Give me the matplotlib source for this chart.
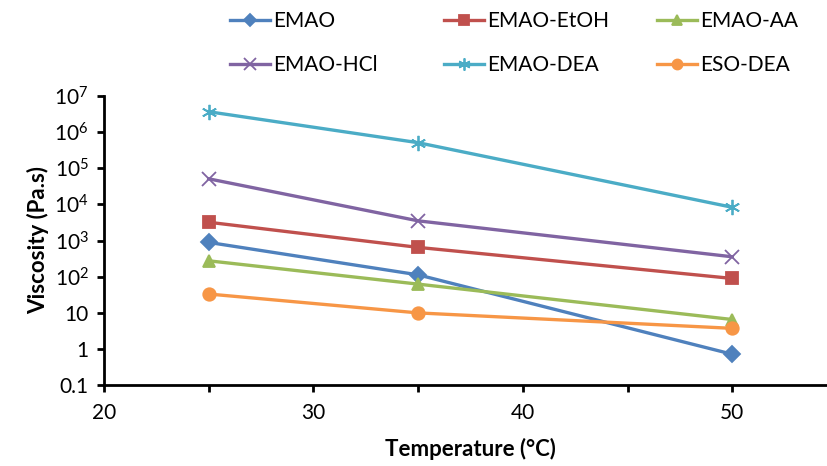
import matplotlib
matplotlib.use("Agg")
import matplotlib.pyplot as plt
from matplotlib.ticker import FixedLocator, FixedFormatter, MultipleLocator, NullLocator

plt.rcParams['font.family'] = ['Lato', 'DejaVu Sans']
plt.rcParams['mathtext.fontset'] = 'custom'
plt.rcParams['mathtext.rm'] = 'Lato'
plt.rcParams['mathtext.it'] = 'Lato'
plt.rcParams['mathtext.bf'] = 'Lato:bold'

# data
temperature = [25, 35, 50]
emao = [885, 112, 0.71]
emao_etoh = [3200, 645, 89]
emao_aa = [274, 62, 6.5]
emao_hcl = [51000, 3500, 354]
emao_dea = [3.67e6, 5.1e5, 8300]
eso_dea = [33, 9.9, 3.7]

y_ticks = [0.1, 1, 10, 1e2, 1e3, 1e4, 1e5, 1e6, 1e7]
y_labels = ['0.1', '1', '10', '$10^{2}$', '$10^{3}$', '$10^{4}$',
            '$10^{5}$', '$10^{6}$', '$10^{7}$']

series = [
    ('EMAO', emao, '#4F81BD', 'D', 8),
    ('EMAO-EtOH', emao_etoh, '#C0504D', 's', 9),
    ('EMAO-AA', emao_aa, '#9BBB59', '^', 9),
    ('EMAO-HCl', emao_hcl, '#8064A2', 'x', 10),
    ('EMAO-DEA', emao_dea, '#4BACC6', (6, 2, 0), 11),
    ('ESO-DEA', eso_dea, '#F79646', 'o', 9),
]

fig = plt.figure(figsize=(8.28, 4.66), dpi=100)
ax = fig.add_axes([104 / 828, 81 / 466, 733 / 828, 289 / 466])

handles = []
for name, vals, col, mk, ms in series:
    h, = ax.plot(temperature, vals, color=col, lw=2.4, marker=mk, markersize=ms,
                 markeredgecolor=col, markerfacecolor=col, markeredgewidth=1.3,
                 label=name, clip_on=False)
    handles.append(h)

ax.set_yscale('log')
ax.set_ylim(0.1, 1e7)
ax.set_xlim(20, 55)
ax.yaxis.set_major_locator(FixedLocator(y_ticks))
ax.yaxis.set_major_formatter(FixedFormatter(y_labels))
ax.yaxis.set_minor_locator(NullLocator())
ax.xaxis.set_major_locator(FixedLocator([20, 30, 40, 50]))
ax.xaxis.set_minor_locator(MultipleLocator(5))

for s in ['top', 'right']:
    ax.spines[s].set_visible(False)
for s in ['left', 'bottom']:
    ax.spines[s].set_linewidth(2)
    ax.spines[s].set_color('black')

ax.tick_params(axis='y', which='major', direction='out', length=5, width=2,
               labelsize=15, pad=6)
ax.tick_params(axis='x', which='both', direction='out', length=5, width=2,
               labelsize=15, pad=8)

ax.set_ylabel('Viscosity (Pa.s)', fontsize=16, fontweight='bold', labelpad=4)
ax.set_xlabel('Temperature (°C)', fontsize=16, fontweight='bold', labelpad=11)

# legend: three columns laid out like the reference (row-wise order)
col_x = [222, 436, 649]
for i, x0 in enumerate(col_x):
    hs = [handles[i], handles[i + 3]]
    fig.legend(handles=hs, labels=[h.get_label() for h in hs],
               loc='upper left', bbox_to_anchor=(x0 / 828, 1.0 - 3 / 466),
               frameon=False, fontsize=15, handlelength=1.9,
               handletextpad=0.15, labelspacing=1.15, markerscale=0.8,
               borderaxespad=0.0)

fig.savefig('out.png', dpi=100)
